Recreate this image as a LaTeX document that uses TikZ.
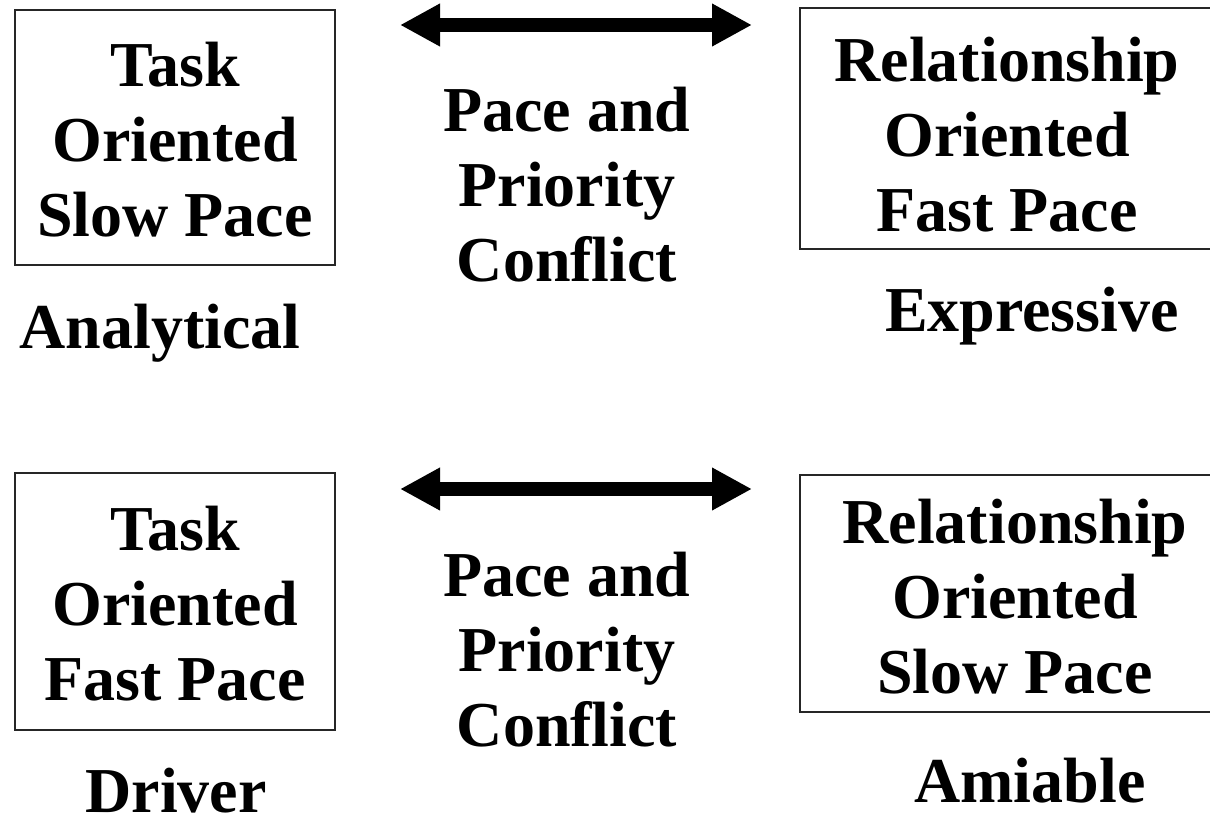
\documentclass[tikz,border=0pt]{standalone}
\usepackage{fontspec}
\setmainfont{Liberation Serif}
\usetikzlibrary{arrows.meta}
\begin{document}
\begin{tikzpicture}[x=1pt,y=-1pt,
  box/.style={draw=black!85,line width=1.5pt,minimum width=#1,inner sep=0pt},
  txt/.style={align=center,font=\fontsize{64}{75}\selectfont\bfseries,inner sep=0pt},
  lbl/.style={font=\fontsize{64}{75}\selectfont\bfseries,inner sep=0pt},
  dbl/.style={line width=14pt,{Triangle[width=40pt,length=40pt]}-{Triangle[width=40pt,length=40pt]}}]
\useasboundingbox (0,0) rectangle (1210,818);
% top row
\node[box=320pt,minimum height=255pt] (b1) at (175,137.5) {};
\node[txt] (t1) at (175,140) {Task\\Oriented\\Slow Pace};
\node[box=415pt,minimum height=241pt] (b2) at (1007.5,128.5) {};
\node[txt] (t2) at (1007,135) {Relationship\\Oriented\\Fast Pace};
\node[txt] (m1) at (567,185) {Pace and\\Priority\\Conflict};
\coordinate (a1l) at (400,25);
\coordinate (a1r) at (752,25);
\draw[dbl] (a1l) -- (a1r);
\node[lbl] (l1) at (160,333) {Analytical};
\node[lbl] (l2) at (1032,316) {Expressive};
% bottom row
\node[box=320pt,minimum height=257pt] (b3) at (175,601.5) {};
\node[txt] (t3) at (175,604) {Task\\Oriented\\Fast Pace};
\node[box=415pt,minimum height=237pt] (b4) at (1007.5,593.5) {};
\node[txt] (t4) at (1015,597) {Relationship\\Oriented\\Slow Pace};
\node[txt] (m2) at (567,650) {Pace and\\Priority\\Conflict};
\coordinate (a2l) at (400,489);
\coordinate (a2r) at (752,489);
\draw[dbl] (a2l) -- (a2r);
\node[lbl] (l3) at (176,791) {Driver};
\node[lbl] (l4) at (1030,781) {Amiable};
\end{tikzpicture}
\end{document}
